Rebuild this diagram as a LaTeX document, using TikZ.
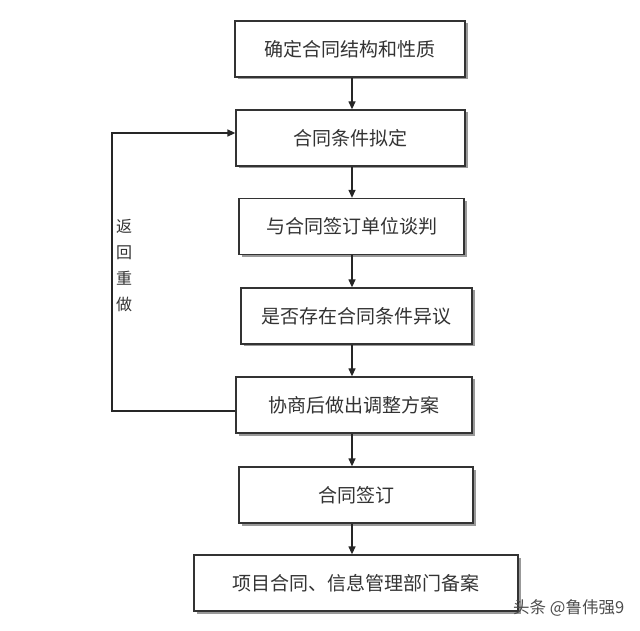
\documentclass[tikz,border=0pt]{standalone}
\usepackage{fontspec}
\newfontfamily\cjk{Noto Sans CJK SC}
\usetikzlibrary{arrows.meta,shadows}
\newcommand{\boxwidth}{229pt}

\begin{document}
\begin{tikzpicture}[x=1pt,y=1pt,
	stepbox/.style={draw=black!80, line width=1.3pt, fill=white, minimum width=\boxwidth, minimum height=56pt, inner sep=0pt,
		font=\cjk\fontsize{19pt}{23pt}\selectfont, text=black!80,
		drop shadow={shadow xshift=2.5pt, shadow yshift=-2.5pt, fill=black!40, opacity=1}},
	flow/.style={line width=1.3pt, draw=black!85, -{Triangle[length=8pt,width=7pt]}}]
	\useasboundingbox (0,0) rectangle (640,630);

	\node [stepbox, minimum width=230pt] (b1) at (350,581) {确定合同结构和性质};
	\node [stepbox] (b2) at (350.5,492) {合同条件拟定};
	\node [stepbox, minimum width=225pt] (b3) at (351.5,403.5) {与合同签订单位谈判};
	\node [stepbox, minimum width=231pt] (b4) at (356.5,314) {是否存在合同条件异议};
	\node [stepbox, minimum width=236pt] (b5) at (354,225) {协商后做出调整方案};
	\node [stepbox, minimum width=234pt] (b6) at (356,135) {合同签订};
	\node [stepbox, minimum width=324pt] (b7) at (356,47) {项目合同、信息管理部门备案};
	\coordinate (axis) at (352,0);
	\coordinate (back) at (112,0);

	\draw [flow] (b1.south -| axis) -- (b2.north -| axis);
	\draw [flow] (b2.south -| axis) -- (b3.north -| axis);
	\draw [flow] (b3.south -| axis) -- (b4.north -| axis);
	\draw [flow] (b4.south -| axis) -- (b5.north -| axis);
	\draw [flow] (b5.south -| axis) -- (b6.north -| axis);
	\draw [flow] (b6.south -| axis) -- (b7.north -| axis);
	\draw [flow] ([yshift=-6pt]b5.west) -- ([yshift=-6pt]b5.west -| back) |- ([yshift=5pt]b2.west);

	\node [align=center, font=\cjk\fontsize{16pt}{26pt}\selectfont, text=black!80] (redo) at (124,364) {返\\回\\重\\做};
	\node [anchor=west, inner sep=0pt, font=\cjk\fontsize{16.5pt}{18pt}\selectfont, text=black!70] (mark) at (513,22) {头条 @鲁伟强9};
\end{tikzpicture}
\end{document}
